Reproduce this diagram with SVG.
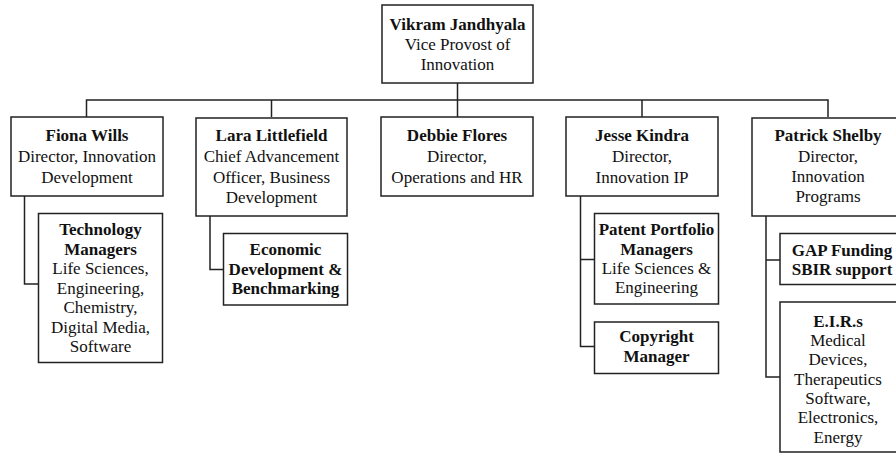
<svg xmlns="http://www.w3.org/2000/svg" width="896" height="453" viewBox="0 0 896 453">
<style>
  .box { fill: #ffffff; stroke: #222222; stroke-width: 1.5; }
  .conn { fill: none; stroke: #222222; stroke-width: 1.5; }
  text { font-family: "Liberation Serif", "Times New Roman", serif; font-size: 17px; fill: #111111; text-anchor: middle; }
  .b { font-weight: bold; }
</style>
<rect width="896" height="453" fill="#ffffff"/>
<g id="connectors">
  <path class="conn" d="M457.5,83 V100"/>
  <path class="conn" d="M86.5,117 V100 H828 V117"/>
  <path class="conn" d="M271.5,100 V117"/>
  <path class="conn" d="M457.5,100 V117"/>
  <path class="conn" d="M642,100 V117"/>
  <path class="conn" d="M24.5,196 V284 H38"/>
  <path class="conn" d="M210,216 V269.5 H223"/>
  <path class="conn" d="M580.5,196 V346.5 H594 M580.5,259.5 H594"/>
  <path class="conn" d="M766,216 V377 H780 M766,260 H780"/>
</g>
<g id="vikram">
  <rect class="box" x="382" y="5" width="151" height="78"/>
  <text x="457.5" y="29.5" class="b">Vikram Jandhyala</text>
  <text x="457.5" y="49.5">Vice Provost of</text>
  <text x="457.5" y="70">Innovation</text>
</g>
<g id="fiona">
  <rect class="box" x="11" y="117" width="152" height="79"/>
  <text x="87" y="141" class="b">Fiona Wills</text>
  <text x="87" y="162">Director, Innovation</text>
  <text x="87" y="182.5">Development</text>
</g>
<g id="lara">
  <rect class="box" x="196" y="118" width="151" height="98"/>
  <text x="271.5" y="141" class="b">Lara Littlefield</text>
  <text x="271.5" y="162">Chief Advancement</text>
  <text x="271.5" y="182.5">Officer, Business</text>
  <text x="271.5" y="202.5">Development</text>
</g>
<g id="debbie">
  <rect class="box" x="381" y="117" width="152" height="79"/>
  <text x="457" y="141" class="b">Debbie Flores</text>
  <text x="457" y="162">Director,</text>
  <text x="457" y="182.5">Operations and HR</text>
</g>
<g id="jesse">
  <rect class="box" x="566" y="117" width="152" height="79"/>
  <text x="642" y="141" class="b">Jesse Kindra</text>
  <text x="642" y="162">Director,</text>
  <text x="642" y="182.5">Innovation IP</text>
</g>
<g id="patrick">
  <rect class="box" x="752" y="118" width="152" height="98"/>
  <text x="828" y="141" class="b">Patrick Shelby</text>
  <text x="828" y="161.5">Director,</text>
  <text x="828" y="182">Innovation</text>
  <text x="828" y="202">Programs</text>
</g>
<g id="tech-managers">
  <rect class="box" x="38.5" y="213.5" width="124" height="149"/>
  <text x="100.5" y="235" class="b">Technology</text>
  <text x="100.5" y="254.5" class="b">Managers</text>
  <text x="100.5" y="274">Life Sciences,</text>
  <text x="100.5" y="293.5">Engineering,</text>
  <text x="100.5" y="313">Chemistry,</text>
  <text x="100.5" y="332.5">Digital Media,</text>
  <text x="100.5" y="352">Software</text>
</g>
<g id="economic">
  <rect class="box" x="223.5" y="233.5" width="124" height="71.5"/>
  <text x="285.5" y="255" class="b">Economic</text>
  <text x="285.5" y="274.5" class="b">Development &amp;</text>
  <text x="285.5" y="294" class="b">Benchmarking</text>
</g>
<g id="patent">
  <rect class="box" x="594.5" y="213.5" width="124" height="90.5"/>
  <text x="656.5" y="235" class="b">Patent Portfolio</text>
  <text x="656.5" y="254.5" class="b">Managers</text>
  <text x="656.5" y="274">Life Sciences &amp;</text>
  <text x="656.5" y="293">Engineering</text>
</g>
<g id="copyright">
  <rect class="box" x="594.5" y="322" width="124" height="51.5"/>
  <text x="656.5" y="342" class="b">Copyright</text>
  <text x="656.5" y="361.5" class="b">Manager</text>
</g>
<g id="gap">
  <rect class="box" x="780" y="233.5" width="124" height="51"/>
  <text x="842" y="256" class="b">GAP Funding</text>
  <text x="842" y="275" class="b">SBIR support</text>
</g>
<g id="eirs">
  <rect class="box" x="780" y="302" width="124" height="150"/>
  <text x="838" y="326.5" class="b">E.I.R.s</text>
  <text x="838" y="346">Medical</text>
  <text x="838" y="365">Devices,</text>
  <text x="838" y="384.5">Therapeutics</text>
  <text x="838" y="404">Software,</text>
  <text x="838" y="423">Electronics,</text>
  <text x="838" y="442.5">Energy</text>
</g>
</svg>
